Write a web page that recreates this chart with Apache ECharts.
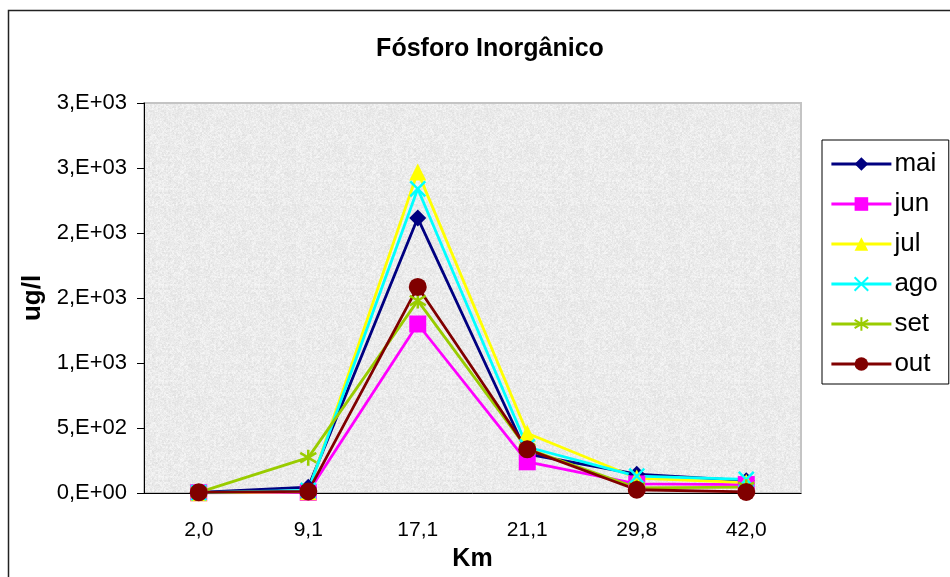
<!DOCTYPE html>
<html>
<head>
<meta charset="utf-8">
<script src="https://cdn.jsdelivr.net/npm/echarts@6/dist/echarts.min.js"></script>
<style>
  html, body { margin: 0; padding: 0; background: #fff; }
  #chart { width: 950px; height: 577px; }
</style>
</head>
<body>
<div id="chart"></div>
<script>
// distancias (km) e valores por mes
const categories = ['2,0', '9,1', '17,1', '21,1', '29,8', '42,0'];
const maiValues = [5, 45, 2115, 300, 145, 95];
const junValues = [2, 5, 1300, 240, 70, 65];
const julValues = [2, 10, 2470, 460, 115, 80];
const agoValues = [3, 20, 2340, 354, 130, 105];
const setValues = [5, 272, 1480, 340, 40, 45];
const outValues = [5, 12, 1585, 336, 25, 8];
const yTickLabels = ['0,E+00', '5,E+02', '1,E+03', '2,E+03', '2,E+03', '3,E+03', '3,E+03'];

const FONT = 'Liberation Sans, Arial, sans-serif';

// textura cinza granulada do fundo (hash fixo, nao aleatorio)
function grainTexture() {
  const size = 96;
  const c = document.createElement('canvas');
  c.width = size; c.height = size;
  const ctx = c.getContext('2d');
  const img = ctx.createImageData(size, size);
  for (let y = 0; y < size; y++) {
    for (let x = 0; x < size; x++) {
      const h = Math.sin(x * 12.9898 + y * 78.233) * 43758.5453;
      const n = h - Math.floor(h);
      const h2 = Math.sin((x >> 1) * 39.346 + (y >> 1) * 11.135) * 24634.6345;
      const n2 = h2 - Math.floor(h2);
      const g = Math.round(222 + 26 * (0.55 * n + 0.45 * n2));
      const i = (y * size + x) * 4;
      img.data[i] = g; img.data[i + 1] = g; img.data[i + 2] = g; img.data[i + 3] = 255;
    }
  }
  ctx.putImageData(img, 0, 0);
  return c;
}

const chart = echarts.init(document.getElementById('chart'));

function lineSeries(name, data, color, symbol, size, stroked) {
  return {
    name: name,
    type: 'line',
    data: data,
    symbol: symbol,
    symbolSize: size,
    showAllSymbol: true,
    lineStyle: { color: color, width: 2.8 },
    itemStyle: stroked
      ? { color: 'rgba(0,0,0,0)', borderColor: color, borderWidth: 2.5 }
      : { color: color, borderWidth: 0 },
    emphasis: { disabled: true },
    z: 3
  };
}

const xPath = 'path://M0,0 L10,10 M10,0 L0,10';
const starPath = 'path://M5,0 L5,10 M0,2 L10,8 M0,8 L10,2';

const option = {
  animation: false,
  title: {
    text: 'Fósforo Inorgânico',
    left: 485,
    textAlign: 'center',
    top: 32,
    textStyle: { fontFamily: FONT, fontSize: 25, fontWeight: 'bold', color: '#000' }
  },
  legend: {
    orient: 'vertical',
    left: 822,
    top: 140,
    padding: [11, 11, 7, 8],
    itemWidth: 60,
    itemHeight: 17,
    itemGap: 14,
    borderColor: '#000',
    borderWidth: 1,
    backgroundColor: '#fff',
    lineStyle: { width: 2.8 },
    textStyle: { fontFamily: FONT, fontSize: 26, color: '#000', padding: [0, 0, 0, -2] },
    data: ['mai', 'jun', 'jul', 'ago', 'set', 'out']
  },
  grid: {
    left: 144,
    top: 103,
    right: 149,
    bottom: 84,
    show: true,
    backgroundColor: { image: grainTexture(), repeat: 'repeat' },
    borderColor: '#c4c4c4',
    borderWidth: 2
  },
  xAxis: {
    type: 'category',
    data: categories,
    boundaryGap: true,
    name: 'Km',
    nameLocation: 'middle',
    nameGap: 54,
    nameTextStyle: { fontFamily: FONT, fontSize: 25, fontWeight: 'bold', color: '#000' },
    axisLine: { lineStyle: { color: '#000', width: 1 } },
    axisTick: { length: 6, lineStyle: { color: '#000' } },
    axisLabel: { fontFamily: FONT, fontSize: 21, color: '#000', margin: 27 },
    splitLine: { show: false }
  },
  yAxis: {
    type: 'value',
    min: 0,
    max: 3000,
    interval: 500,
    name: 'ug/l',
    nameLocation: 'middle',
    nameGap: 98,
    nameTextStyle: { fontFamily: FONT, fontSize: 26, fontWeight: 'bold', color: '#000' },
    axisLine: { show: true, lineStyle: { color: '#000', width: 1 } },
    axisTick: { show: true, length: 7, lineStyle: { color: '#000' } },
    axisLabel: {
      fontFamily: FONT, fontSize: 22, color: '#000', margin: 17,
      formatter: function (v) { return yTickLabels[Math.round(v / 500)]; }
    },
    splitLine: { show: false }
  },
  graphic: [{
    type: 'rect',
    shape: { x: 8.5, y: 10.5, width: 1000, height: 1000 },
    style: { fill: 'none', stroke: '#222', lineWidth: 1.5 },
    silent: true,
    z: 0
  }],
  series: [
    lineSeries('mai', maiValues, '#000080', 'diamond', 17, false),
    lineSeries('jun', junValues, '#ff00ff', 'rect', 17, false),
    lineSeries('jul', julValues, '#ffff00', 'triangle', 17, false),
    lineSeries('ago', agoValues, '#00ffff', xPath, 15, true),
    lineSeries('set', setValues, '#99cc00', starPath, 16, true),
    lineSeries('out', outValues, '#800000', 'circle', 18, false)
  ]
};

chart.setOption(option);
</script>
</body>
</html>
